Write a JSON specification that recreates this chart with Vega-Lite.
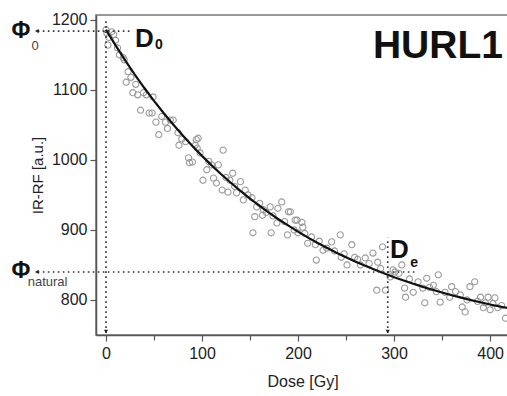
{
  "$schema": "https://vega.github.io/schema/vega-lite/v6.json",
  "width": 413,
  "height": 320,
  "autosize": {"type": "none"},
  "padding": {"left": 96, "top": 15, "right": 0, "bottom": 61},
  "background": "white",
  "config": {
    "font": "Liberation Sans",
    "view": {"stroke": "#777", "strokeWidth": 1.5}
  },
  "datasets": {
    "pts": [
      {"x":0,"y":1186},{"x":1,"y":1181},{"x":2,"y":1164},{"x":3,"y":1175},{"x":6,"y":1183},{"x":8,"y":1179},{"x":10,"y":1171},{"x":12,"y":1160},{"x":14,"y":1150},{"x":18,"y":1146},{"x":19,"y":1143},{"x":21,"y":1111},{"x":23,"y":1126},{"x":26,"y":1118},{"x":28,"y":1096},{"x":31,"y":1108},{"x":33,"y":1093},{"x":36,"y":1071},{"x":39,"y":1096},{"x":42,"y":1093},{"x":45,"y":1067},{"x":48,"y":1067},{"x":49,"y":1090},{"x":52,"y":1054},{"x":55,"y":1036},{"x":58,"y":1062},{"x":62,"y":1054},{"x":64,"y":1045},{"x":67,"y":1057},{"x":70,"y":1057},{"x":75,"y":1039},{"x":76,"y":1021},{"x":79,"y":1030},{"x":83,"y":1026},{"x":86,"y":1003},{"x":87,"y":996},{"x":90,"y":997},{"x":93,"y":1021},{"x":94,"y":1029},{"x":95,"y":1017},{"x":96,"y":1031},{"x":98,"y":1010},{"x":101,"y":971},{"x":105,"y":986},{"x":107,"y":998},{"x":110,"y":993},{"x":112,"y":974},{"x":115,"y":967},{"x":117,"y":993},{"x":121,"y":957},{"x":122,"y":1014},{"x":125,"y":975},{"x":127,"y":954},{"x":129,"y":971},{"x":132,"y":981},{"x":134,"y":962},{"x":136,"y":953},{"x":140,"y":969},{"x":143,"y":943},{"x":145,"y":957},{"x":148,"y":950},{"x":152,"y":946},{"x":153,"y":896},{"x":155,"y":919},{"x":157,"y":933},{"x":160,"y":938},{"x":163,"y":921},{"x":164,"y":929},{"x":167,"y":925},{"x":171,"y":933},{"x":172,"y":896},{"x":174,"y":920},{"x":178,"y":910},{"x":179,"y":931},{"x":183,"y":940},{"x":186,"y":912},{"x":189,"y":893},{"x":190,"y":926},{"x":192,"y":926},{"x":196,"y":900},{"x":197,"y":914},{"x":199,"y":914},{"x":200,"y":896},{"x":204,"y":911},{"x":205,"y":904},{"x":207,"y":895},{"x":210,"y":881},{"x":214,"y":890},{"x":218,"y":879},{"x":219,"y":857},{"x":222,"y":884},{"x":226,"y":871},{"x":230,"y":874},{"x":235,"y":883},{"x":238,"y":870},{"x":244,"y":893},{"x":245,"y":861},{"x":248,"y":866},{"x":251,"y":850},{"x":256,"y":879},{"x":259,"y":861},{"x":262,"y":858},{"x":265,"y":850},{"x":270,"y":860},{"x":274,"y":852},{"x":278,"y":867},{"x":282,"y":814},{"x":283,"y":854},{"x":286,"y":845},{"x":288,"y":876},{"x":291,"y":814},{"x":296,"y":833},{"x":299,"y":843},{"x":301,"y":840},{"x":305,"y":838},{"x":308,"y":850},{"x":311,"y":817},{"x":312,"y":804},{"x":316,"y":830},{"x":320,"y":811},{"x":325,"y":826},{"x":330,"y":817},{"x":332,"y":796},{"x":334,"y":831},{"x":337,"y":818},{"x":341,"y":821},{"x":344,"y":812},{"x":346,"y":836},{"x":348,"y":797},{"x":353,"y":811},{"x":358,"y":804},{"x":360,"y":819},{"x":364,"y":812},{"x":369,"y":807},{"x":371,"y":790},{"x":374,"y":783},{"x":376,"y":800},{"x":379,"y":819},{"x":384,"y":826},{"x":387,"y":798},{"x":390,"y":804},{"x":393,"y":789},{"x":395,"y":796},{"x":398,"y":804},{"x":400,"y":786},{"x":403,"y":795},{"x":405,"y":803},{"x":408,"y":789},{"x":412,"y":792},{"x":416,"y":774}
    ],
    "fit": [
      {"x":0,"y":1186},{"x":10,"y":1163.6},{"x":20,"y":1142.3},{"x":30,"y":1122.0},{"x":40,"y":1102.7},{"x":50,"y":1084.4},{"x":60,"y":1067.1},{"x":70,"y":1050.6},{"x":80,"y":1034.9},{"x":90,"y":1020.0},{"x":100,"y":1005.8},{"x":110,"y":992.3},{"x":120,"y":979.5},{"x":130,"y":967.4},{"x":140,"y":955.8},{"x":150,"y":944.8},{"x":160,"y":934.4},{"x":170,"y":924.4},{"x":180,"y":915.0},{"x":190,"y":906.1},{"x":200,"y":897.6},{"x":210,"y":889.4},{"x":220,"y":881.8},{"x":230,"y":874.5},{"x":240,"y":867.5},{"x":250,"y":861.0},{"x":260,"y":854.7},{"x":270,"y":848.8},{"x":280,"y":843.1},{"x":290,"y":837.7},{"x":300,"y":832.6},{"x":310,"y":827.8},{"x":320,"y":823.1},{"x":330,"y":818.7},{"x":340,"y":814.6},{"x":350,"y":810.6},{"x":360,"y":806.8},{"x":370,"y":803.3},{"x":380,"y":799.9},{"x":390,"y":796.7},{"x":400,"y":793.6},{"x":410,"y":790.7},{"x":420,"y":787.9}
    ],
    "guides": [
      {"x":-71,"x2":28,"y":1184,"y2":1184},
      {"x":0,"x2":0,"y":753,"y2":1198},
      {"x":-71,"x2":324,"y":840,"y2":840},
      {"x":293.4,"x2":293.4,"y":753,"y2":889}
    ],
    "arrowsL": [{"x":-72,"y":1184},{"x":-72,"y":840}],
    "arrowsD": [{"x":0,"y":755},{"x":293.4,"y":755}]
  },
  "layer": [
    {
      "data": {"name": "pts"},
      "mark": {"type": "point", "shape": "circle", "filled": false, "stroke": "#9a9a9a", "strokeWidth": 1.1, "size": 38, "opacity": 1},
      "encoding": {
        "x": {"field": "x", "type": "quantitative", "scale": {"domain": [-10.4, 419.7], "nice": false, "zero": false},
              "axis": {"title": "Dose [Gy]", "values": [0,50,100,150,200,250,300,350,400], "format": "d",
                       "labelExpr": "datum.value % 100 === 0 ? datum.label : ''",
                       "domainColor": "#555", "domainWidth": 1.5, "tickColor": "#555", "tickWidth": 1.2,
                       "labelColor": "#222", "labelFontSize": 16, "labelFont": "Liberation Sans",
                       "titleColor": "#222", "titleFontSize": 16, "titleFontWeight": "normal", "titleFont": "Liberation Sans",
                       "grid": false,
                       "tickSize": {"condition": {"test": "datum.value % 100 === 0", "value": 6}, "value": 5}, "labelPadding": 4, "titlePadding": 12}},
        "y": {"field": "y", "type": "quantitative", "scale": {"domain": [750, 1207], "nice": false, "zero": false},
              "axis": {"title": "IR-RF [a.u.]", "values": [800,850,900,950,1000,1050,1100,1150,1200], "format": "d",
                       "labelExpr": "datum.value % 100 === 0 ? datum.label : ''",
                       "domainColor": "#555", "domainWidth": 1.5, "tickColor": "#555", "tickWidth": 1.2,
                       "labelColor": "#222", "labelFontSize": 16, "labelFont": "Liberation Sans",
                       "titleColor": "#222", "titleFontSize": 15, "titleFontWeight": "normal", "titleFont": "Liberation Sans",
                       "grid": false,
                       "tickSize": {"condition": {"test": "datum.value % 100 === 0", "value": 6}, "value": 4}, "labelPadding": 3, "titlePadding": 6}}
      }
    },
    {
      "data": {"name": "fit"},
      "mark": {"type": "line", "color": "#111", "strokeWidth": 2.2},
      "encoding": {
        "x": {"field": "x", "type": "quantitative", "scale": {"domain": [-10.4, 419.7], "nice": false, "zero": false}},
        "y": {"field": "y", "type": "quantitative", "scale": {"domain": [750, 1207], "nice": false, "zero": false}}
      }
    },
    {
      "data": {"name": "guides"},
      "mark": {"type": "rule", "color": "#333", "strokeWidth": 1.6, "strokeDash": [1.6, 3.4], "clip": false},
      "encoding": {
        "x": {"field": "x", "type": "quantitative", "scale": {"domain": [-10.4, 419.7], "nice": false, "zero": false}},
        "x2": {"field": "x2"},
        "y": {"field": "y", "type": "quantitative", "scale": {"domain": [750, 1207], "nice": false, "zero": false}},
        "y2": {"field": "y2"}
      }
    },
    {
      "data": {"name": "arrowsL"},
      "mark": {"type": "point", "shape": "triangle-left", "filled": true, "color": "#222", "size": 18, "opacity": 1, "clip": false},
      "encoding": {
        "x": {"field": "x", "type": "quantitative", "scale": {"domain": [-10.4, 419.7], "nice": false, "zero": false}},
        "y": {"field": "y", "type": "quantitative", "scale": {"domain": [750, 1207], "nice": false, "zero": false}}
      }
    },
    {
      "data": {"name": "arrowsD"},
      "mark": {"type": "point", "shape": "triangle-down", "filled": true, "color": "#222", "size": 18, "opacity": 1},
      "encoding": {
        "x": {"field": "x", "type": "quantitative", "scale": {"domain": [-10.4, 419.7], "nice": false, "zero": false}},
        "y": {"field": "y", "type": "quantitative", "scale": {"domain": [750, 1207], "nice": false, "zero": false}}
      }
    },
    {
      "data": {"values": [{"t": "Φ", "x": -88.5, "y": 1184}, {"t": "Φ", "x": -88.5, "y": 842}]},
      "mark": {"type": "text", "fontSize": 23, "fontWeight": "bold", "color": "#111", "align": "center", "baseline": "middle", "font": "Liberation Sans"},
      "encoding": {
        "x": {"field": "x", "type": "quantitative", "scale": {"domain": [-10.4, 419.7], "nice": false, "zero": false}},
        "y": {"field": "y", "type": "quantitative", "scale": {"domain": [750, 1207], "nice": false, "zero": false}},
        "text": {"field": "t"}
      }
    },
    {
      "data": {"values": [{"t": "0", "x": -77.5, "y": 1163}, {"t": "natural", "x": -81.5, "y": 825}]},
      "mark": {"type": "text", "fontSize": 13, "color": "#444", "align": "left", "baseline": "middle", "font": "Liberation Sans"},
      "encoding": {
        "x": {"field": "x", "type": "quantitative", "scale": {"domain": [-10.4, 419.7], "nice": false, "zero": false}},
        "y": {"field": "y", "type": "quantitative", "scale": {"domain": [750, 1207], "nice": false, "zero": false}},
        "text": {"field": "t"}
      }
    },
    {
      "data": {"values": [{"t": "D", "x": 30.2, "y": 1161}, {"t": "D", "x": 295.8, "y": 860}]},
      "mark": {"type": "text", "fontSize": 26, "fontWeight": "bold", "color": "#111", "align": "left", "baseline": "alphabetic", "font": "Liberation Sans"},
      "encoding": {
        "x": {"field": "x", "type": "quantitative", "scale": {"domain": [-10.4, 419.7], "nice": false, "zero": false}},
        "y": {"field": "y", "type": "quantitative", "scale": {"domain": [750, 1207], "nice": false, "zero": false}},
        "text": {"field": "t"}
      }
    },
    {
      "data": {"values": [{"t": "0", "x": 51, "y": 1159}, {"t": "e", "x": 316.8, "y": 847}]},
      "mark": {"type": "text", "fontSize": 14, "fontWeight": "bold", "color": "#111", "align": "left", "baseline": "alphabetic", "font": "Liberation Sans"},
      "encoding": {
        "x": {"field": "x", "type": "quantitative", "scale": {"domain": [-10.4, 419.7], "nice": false, "zero": false}},
        "y": {"field": "y", "type": "quantitative", "scale": {"domain": [750, 1207], "nice": false, "zero": false}},
        "text": {"field": "t"}
      }
    },
    {
      "data": {"values": [{"t": "HURL1", "x": 413.4, "y": 1145.6}]},
      "mark": {"type": "text", "fontSize": 39, "fontWeight": "bold", "color": "#111", "align": "right", "baseline": "alphabetic", "font": "Liberation Sans"},
      "encoding": {
        "x": {"field": "x", "type": "quantitative", "scale": {"domain": [-10.4, 419.7], "nice": false, "zero": false}},
        "y": {"field": "y", "type": "quantitative", "scale": {"domain": [750, 1207], "nice": false, "zero": false}},
        "text": {"field": "t"}
      }
    }
  ]
}
